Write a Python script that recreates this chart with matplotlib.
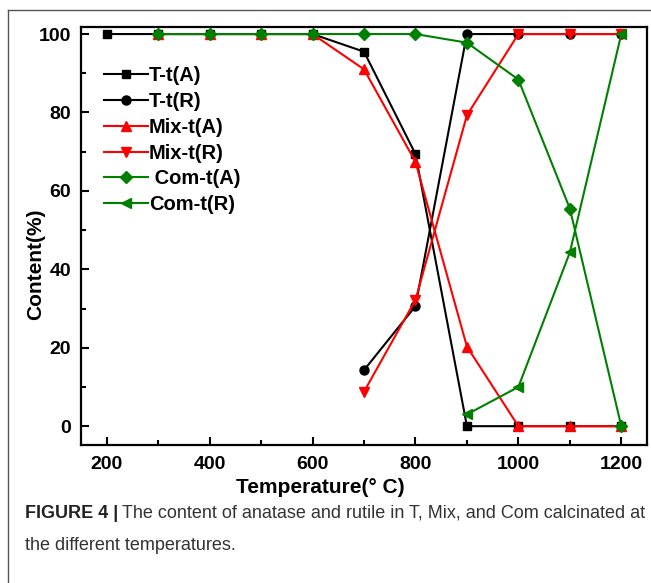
import matplotlib
matplotlib.use("Agg")
import matplotlib.pyplot as plt
from matplotlib.lines import Line2D
from matplotlib.ticker import MultipleLocator

temps = [200, 300, 400, 500, 600, 700, 800, 900, 1000, 1100, 1200]
temps_mix = [300, 400, 500, 600, 700, 800, 900, 1000, 1100, 1200]
temps_r = [700, 800, 900, 1000, 1100, 1200]
temps_com_r = [900, 1000, 1100, 1200]

t_a = [100, 100, 100, 100, 100, 95.5, 69.4, 0, 0, 0, 0]
t_r = [14.3, 30.6, 100, 100, 100, 100]
mix_a = [100, 100, 100, 100, 91.0, 67.4, 20.3, 0, 0, 0]
mix_r = [8.8, 32.2, 79.3, 100, 100, 100]
com_a = [100, 100, 100, 100, 100, 100, 97.8, 88.4, 55.5, 0]
com_r = [3.0, 10.0, 44.3, 100]

labels = ["T-t(A)", "T-t(R)", "Mix-t(A)", "Mix-t(R)", " Com-t(A)", "Com-t(R)"]
xticks = [200, 400, 600, 800, 1000, 1200]
yticks = [0, 20, 40, 60, 80, 100]

plt.rcParams['font.family'] = ['Liberation Sans', 'DejaVu Sans']

fig = plt.figure(figsize=(6.51, 5.83), dpi=100)
ax = fig.add_axes([0.1244, 0.2367, 0.8695, 0.717])

black = '#000000'
red = '#ff0000'
green = '#008000'
lw = 1.5
ms = 6.5

ax.plot(temps, t_a, color=black, marker='s', lw=lw, ms=ms-0.5, label=labels[0])
ax.plot(temps_r, t_r, color=black, marker='o', lw=lw, ms=ms, label=labels[1])
ax.plot(temps_mix, mix_a, color=red, marker='^', lw=lw, ms=ms+0.5, label=labels[2])
ax.plot(temps_r, mix_r, color=red, marker='v', lw=lw, ms=ms+0.5, label=labels[3])
ax.plot(temps_mix, com_a, color=green, marker='D', lw=lw, ms=ms-0.5, label=labels[4])
ax.plot(temps_com_r, com_r, color=green, marker='<', lw=lw, ms=ms+0.5, label=labels[5])

ax.set_xlim(150, 1250)
ax.set_ylim(-4.8, 101.8)
ax.set_xticks(xticks)
ax.set_yticks(yticks)
ax.xaxis.set_minor_locator(MultipleLocator(100))
ax.yaxis.set_minor_locator(MultipleLocator(10))
ax.tick_params(which='both', direction='in', top=False, right=False, width=1.5)
ax.tick_params(which='major', length=6, labelsize=14)
ax.tick_params(axis='x', which='major', pad=8)
ax.tick_params(axis='y', which='major', pad=7)
ax.tick_params(which='minor', length=3.5)
for lab in ax.get_xticklabels() + ax.get_yticklabels():
    lab.set_fontweight('bold')
for s in ax.spines.values():
    s.set_linewidth(1.6)

ax.set_xlabel("Temperature(° C)", fontsize=15, fontweight='bold', labelpad=0)
ax.xaxis.set_label_coords(0.422, -0.08)
ax.set_ylabel("Content(%)", fontsize=15, fontweight='bold')
ax.yaxis.set_label_coords(-0.064, 0.433)

leg = ax.legend(loc='upper left', bbox_to_anchor=(0.026, 0.925), frameon=False,
                prop={'size': 14.5, 'weight': 'bold'}, handlelength=2.2,
                handletextpad=0.05, labelspacing=0.335, borderaxespad=0)

# figure frame lines (caption box)
fig.add_artist(Line2D([8/651, 1.0], [1 - 10/583, 1 - 10/583], color='#555555', lw=1.0,
                      transform=fig.transFigure))
fig.add_artist(Line2D([8/651, 8/651], [1 - 10/583, 0.0], color='#555555', lw=1.0,
                      transform=fig.transFigure))

cap_fam = ['Liberation Sans Narrow', 'Liberation Sans', 'DejaVu Sans']
t1 = fig.text(25/651, 1 - 513/583, "FIGURE 4 |", fontsize=13, fontweight='bold',
              family=cap_fam, color='#222222', va='center', ha='left')
fig.canvas.draw()
bb = t1.get_window_extent()
fig.text((bb.x1 + 4) / 651, 1 - 513/583,
         "The content of anatase and rutile in T, Mix, and Com calcinated at",
         fontsize=13, family=cap_fam, color='#333333', va='center', ha='left')
fig.text(25/651, 1 - 545/583, "the different temperatures.", fontsize=13,
         family=cap_fam, color='#333333', va='center', ha='left')

fig.savefig("out.png", dpi=100)
